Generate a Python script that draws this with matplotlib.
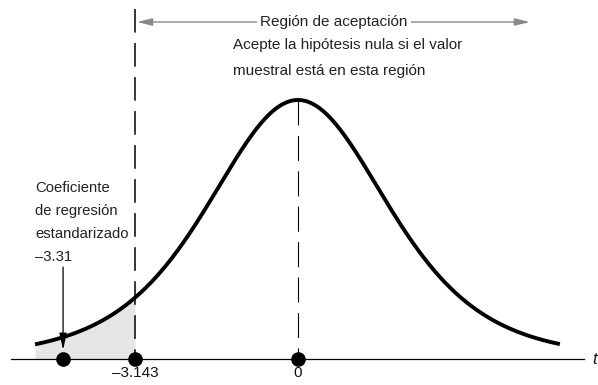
import numpy as np
import matplotlib
matplotlib.use('Agg')
import matplotlib.pyplot as plt

plt.rcParams['lines.scale_dashes'] = False
FONT = ['Liberation Sans', 'DejaVu Sans']

# ---- data ----
df_t = 5
scale_t = 1.79
curve_start, curve_end = -5.07, 5.05
critical_value = -3.143
critical_label = '–3.143'
center_value = 0.0
center_label = '0'
sample_label = '–3.31'
sample_pos = -4.53          # schematic position of the sample statistic on the drawing
axis_start, axis_end = -5.53, 5.51
accept_right = 4.47
region_title = 'Región de aceptación'
region_lines = ['Acepte la hipótesis nula si el valor', 'muestral está en esta región']
coef_lines = ['Coeficiente', 'de regresión', 'estandarizado', sample_label]
axis_name = 't'

fig = plt.figure(figsize=(5.98, 3.85), dpi=100)
ax = fig.add_axes([0, 0, 1, 1])
ax.set_xlim(-5.746, 5.785)
ax.set_ylim(-0.1004, 1.386)
ax.axis('off')

PX_Y = 1 / 259.0   # data units per pixel vertically


def dens(v):
    return (1 + (v / scale_t) ** 2 / df_t) ** (-(df_t + 1) / 2)


x = np.linspace(curve_start, curve_end, 500)
ax.plot(x, dens(x), color='black', lw=2.8, solid_capstyle='butt', zorder=3)

xs = np.linspace(curve_start, critical_value, 200)
ax.fill_between(xs, 0, dens(xs), color='#e6e6e6', lw=0, zorder=1)

# baseline
ax.plot([axis_start, axis_end], [0, 0], color='black', lw=0.9, zorder=2)

# dashed lines
ax.plot([critical_value, critical_value], [1.351, 0], color='black', lw=1.1,
        dashes=(17, 7.5), zorder=2)
ax.plot([center_value, center_value], [dens(center_value), 0], color='black', lw=0.8,
        dashes=(18, 7.5), zorder=2)

# dots
ax.plot([sample_pos, critical_value, center_value], [0, 0, 0], 'o', ms=9.5,
        color='black', zorder=5)

FS = 11
# tick labels
for v, lab in [(critical_value, critical_label), (center_value, center_label)]:
    ax.text(v, -14 * PX_Y, lab, ha='center', va='center', fontsize=FS, family=FONT,
            color='#111111')

ax.text(5.67, -0.002, axis_name, ha='left', va='center', fontsize=12, style='italic',
        family=FONT, color='#111111')

# acceptance region arrow
ytop = 1.301
txt_x = 0.694
arrow_kw = dict(arrowstyle='-|>,head_length=0.9,head_width=0.22', color='#888888',
                lw=1.0, shrinkA=0, shrinkB=0, mutation_scale=10)
ax.annotate('', xy=(critical_value + 0.04, ytop), xytext=(txt_x, ytop),
            arrowprops=arrow_kw, zorder=2)
ax.annotate('', xy=(accept_right, ytop), xytext=(txt_x, ytop),
            arrowprops=arrow_kw, zorder=2)
ax.text(txt_x, ytop, region_title, ha='center', va='center', fontsize=FS, family=FONT,
        color='#222222', zorder=4,
        bbox=dict(facecolor='white', edgecolor='none', pad=2.5))

y0 = (359 - 45) * PX_Y
for i, line in enumerate(region_lines):
    ax.text(-1.253, y0 - i * 26.5 * PX_Y, line, ha='left', va='center', fontsize=FS,
            family=FONT, color='#222222')

# coefficient annotation
y0 = (359 - 188) * PX_Y
for i, line in enumerate(coef_lines):
    ax.text(-5.07, y0 - i * 23 * PX_Y, line, ha='left', va='center', fontsize=10.7,
            family=FONT, color='#222222')
ax.annotate('', xy=(sample_pos, 0.035), xytext=(sample_pos, 0.355),
            arrowprops=dict(arrowstyle='-|>,head_length=1.0,head_width=0.22',
                            color='black', lw=0.9, shrinkA=0, shrinkB=0,
                            mutation_scale=10), zorder=4)

fig.savefig('out.png', dpi=100)
